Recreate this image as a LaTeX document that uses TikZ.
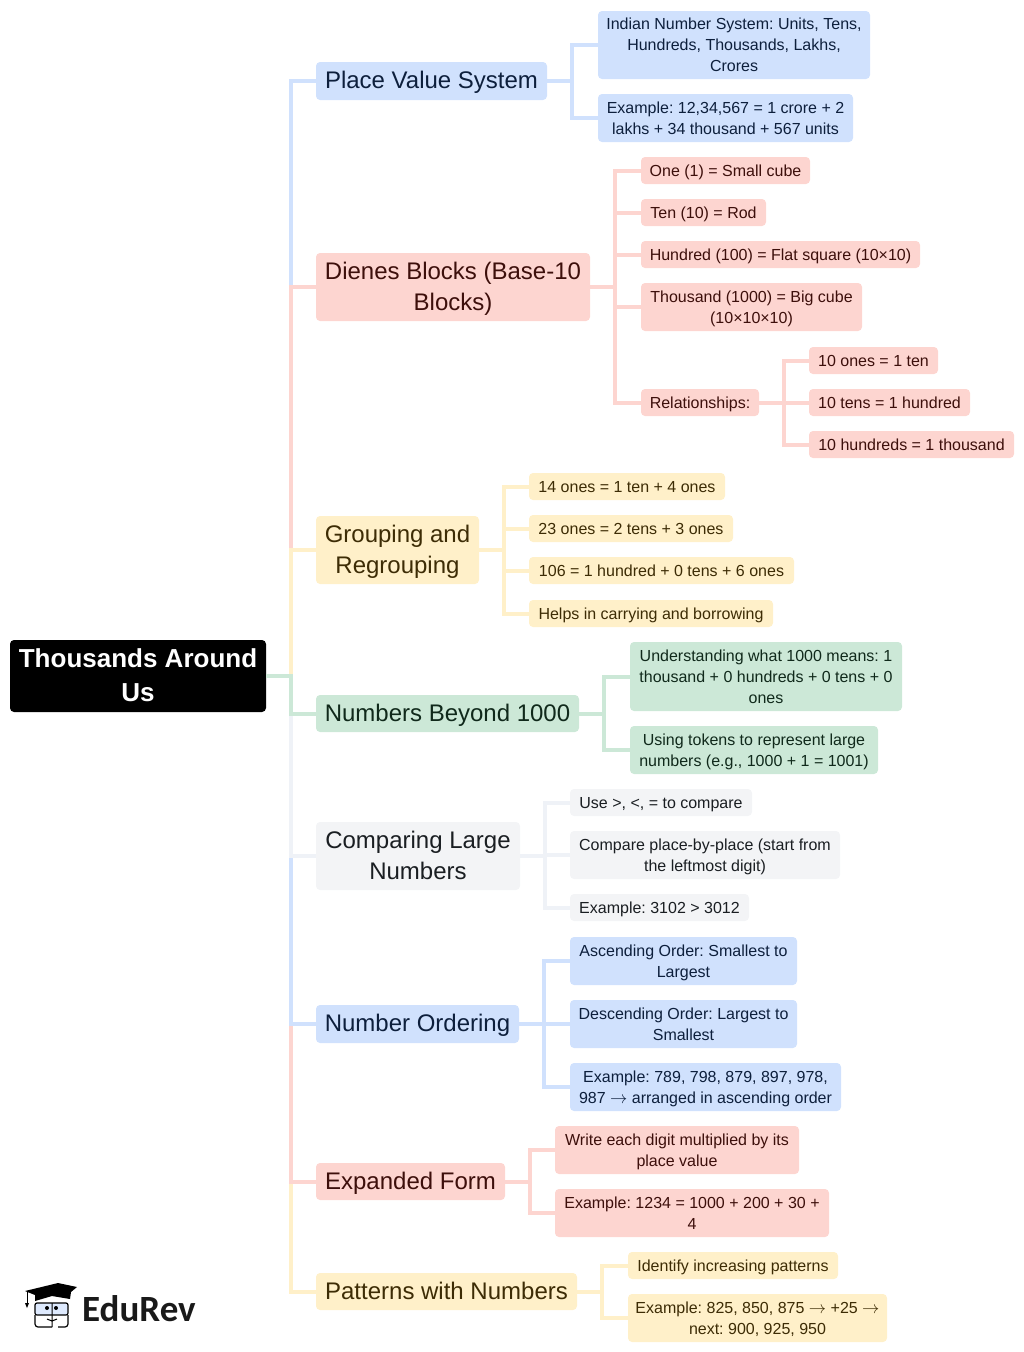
\documentclass[tikz,border=0pt]{standalone}
\usepackage{fontspec}
\setmainfont{Liberation Sans}
\newfontfamily\logofont{Carlito}
\definecolor{blueC}{HTML}{D0E1FD}
\definecolor{pinkC}{HTML}{FDD5D0}
\definecolor{yellowC}{HTML}{FFF0C9}
\definecolor{greenC}{HTML}{CCE8D7}
\definecolor{grayC}{HTML}{F3F4F6}
\definecolor{grayL}{HTML}{EFF2F7}
\definecolor{blueT}{HTML}{0D1F3C}
\definecolor{pinkT}{HTML}{3D0F0B}
\definecolor{yellowT}{HTML}{3D2C05}
\definecolor{greenT}{HTML}{10291B}
\definecolor{grayT}{HTML}{1A1E22}
\newcommand{\arr}{$\rightarrow$}
% height of the first line, for boxes of more than one line
\newcommand{\stp}{\rule{0pt}{16pt}}
\newcommand{\btp}{\rule{0pt}{23pt}}
\newcommand{\rtp}{\rule{0pt}{25pt}}
\tikzset{
  box/.style={rounded corners=4pt,inner sep=0pt,align=center},
  big/.style={box,font=\frenchspacing\fontsize{24}{31}\selectfont,
    execute at begin node={\rule{0pt}{23pt}},execute at end node={\rule[-8pt]{0pt}{8pt}}},
  small/.style={box,font=\frenchspacing\fontsize{16}{21}\selectfont,
    execute at begin node={\rule{0pt}{16pt}},execute at end node={\rule[-5pt]{0pt}{5pt}}},
  blueB/.style={fill=blueC,text=blueT},
  pinkB/.style={fill=pinkC,text=pinkT},
  yellowB/.style={fill=yellowC,text=yellowT},
  greenB/.style={fill=greenC,text=greenT},
  grayB/.style={fill=grayC,text=grayT},
  link/.style={line width=4pt},
  size/.style 2 args={minimum width=#1pt,minimum height=#2pt},
}
\begin{document}
\begin{tikzpicture}[x=1pt,y=-1pt]
\useasboundingbox (0,0) rectangle (1024,1352);
% root and main topics
\node[box,fill=black,text=white,size={256}{72},font=\frenchspacing\fontsize{26}{34}\bfseries\selectfont,
  execute at end node={\rule[-9pt]{0pt}{9pt}}] (root) at (138,676) {\rtp Thousands Around\\Us};
\node[big,blueB,size={231}{38}] (place) at (431.5,81) {Place Value System};
\node[big,pinkB,size={274}{68}] (dienes) at (453,287) {\btp Dienes Blocks (Base-10\\Blocks)};
\node[big,yellowB,size={163}{68}] (group) at (397.5,550) {\btp Grouping and\\Regrouping};
\node[big,greenB,size={263}{37}] (beyond) at (447.5,713.5) {Numbers Beyond 1000};
\node[big,grayB,size={204}{68}] (compare) at (418,856) {\btp Comparing Large\\Numbers};
\node[big,blueB,size={203}{38}] (order) at (417.5,1024) {Number Ordering};
\node[big,pinkB,size={189}{37}] (expand) at (410.5,1181.5) {Expanded Form};
\node[big,yellowB,size={261}{37}] (pattern) at (446.5,1291.5) {Patterns with Numbers};
% place value
\node[small,blueB,size={272}{68}] (indian) at (734,45) {\stp Indian Number System: Units, Tens,\\Hundreds, Thousands, Lakhs,\\Crores};
\node[small,blueB,size={255}{48}] (lakhs) at (725.5,118) {\stp Example: 12,34,567 = 1 crore + 2\\lakhs + 34 thousand + 567 units};
% dienes blocks
\node[small,pinkB,size={169}{27}] (one) at (725.5,170.5) {One (1) = Small cube};
\node[small,pinkB,size={125}{27}] (ten) at (703.5,212.5) {Ten (10) = Rod};
\node[small,pinkB,size={279}{27}] (hundred) at (780.5,254.5) {Hundred (100) = Flat square (10×10)};
\node[small,pinkB,size={221}{48}] (thousand) at (751.5,307) {\stp Thousand (1000) = Big cube\\(10×10×10)};
\node[small,pinkB,size={118}{27}] (rel) at (700,402.5) {Relationships:};
\node[small,pinkB,size={129}{27}] (relA) at (873.5,360.5) {10 ones = 1 ten};
\node[small,pinkB,size={161}{27}] (relB) at (889.5,402.5) {10 tens = 1 hundred};
\node[small,pinkB,size={205}{27}] (relC) at (911.5,444.5) {10 hundreds = 1 thousand};
% grouping
\node[small,yellowB,size={196}{27}] (grpA) at (627,486.5) {14 ones = 1 ten + 4 ones};
\node[small,yellowB,size={204}{27}] (grpB) at (631,528.5) {23 ones = 2 tens + 3 ones};
\node[small,yellowB,size={265}{27}] (grpC) at (661.5,570.5) {106 = 1 hundred + 0 tens + 6 ones};
\node[small,yellowB,size={244}{27}] (grpD) at (651,613.5) {Helps in carrying and borrowing};
% beyond 1000
\node[small,greenB,size={272}{69}] (mean) at (766,676.5) {\stp Understanding what 1000 means: 1\\thousand + 0 hundreds + 0 tens + 0\\ones};
\node[small,greenB,size={248}{48}] (token) at (754,750) {\stp Using tokens to represent large\\numbers (e.g., 1000 + 1 = 1001)};
% comparing
\node[small,grayB,size={182}{27}] (cmpA) at (661,802.5) {Use >, <, = to compare};
\node[small,grayB,size={270}{48}] (cmpB) at (705,855) {\stp Compare place-by-place (start from\\the leftmost digit)};
\node[small,grayB,size={179}{27}] (cmpC) at (659.5,907.5) {Example: 3102 > 3012};
% ordering
\node[small,blueB,size={227}{48}] (asc) at (683.5,961) {\stp Ascending Order: Smallest to\\Largest};
\node[small,blueB,size={227}{48}] (desc) at (683.5,1024) {\stp Descending Order: Largest to\\Smallest};
\node[small,blueB,size={271}{48}] (ordEx) at (705.5,1087) {\stp Example: 789, 798, 879, 897, 978,\\987 \arr{} arranged in ascending order};
% expanded form
\node[small,pinkB,size={244}{48}] (digit) at (677,1150) {\stp Write each digit multiplied by its\\place value};
\node[small,pinkB,size={274}{48}] (expEx) at (692,1213) {\stp Example: 1234 = 1000 + 200 + 30 +\\4};
% patterns
\node[small,yellowB,size={210}{27}] (patA) at (733,1265.5) {Identify increasing patterns};
\node[small,yellowB,size={259}{48}] (patB) at (757.5,1318) {\stp Example: 825, 850, 875 \arr{} +25 \arr\\next: 900, 925, 950};
% connectors from the root
\draw[link,blueC] (root.east) -- ++(25,0) |- (place.west);
\draw[link,pinkC] (root.east) -- ++(25,0) |- (dienes.west);
\draw[link,yellowC] (root.east) -- ++(25,0) |- (group.west);
\draw[link,yellowC] (root.east) -- ++(25,0) |- (pattern.west);
\draw[link,pinkC] (root.east) -- ++(25,0) |- (expand.west);
\draw[link,blueC] (root.east) -- ++(25,0) |- (order.west);
\draw[link,grayL] (root.east) -- ++(25,0) |- (compare.west);
\draw[link,greenC] (root.east) -- ++(25,0) |- (beyond.west);
% branches
\foreach \c in {indian,lakhs} \draw[link,blueC] (place.east) -- ++(25,0) |- (\c.west);
\foreach \c in {one,ten,hundred,thousand,rel} \draw[link,pinkC] (dienes.east) -- ++(25,0) |- (\c.west);
\foreach \c in {relA,relB,relC} \draw[link,pinkC] (rel.east) -- ++(25,0) |- (\c.west);
\foreach \c in {grpA,grpB,grpC,grpD} \draw[link,yellowC] (group.east) -- ++(25,0) |- (\c.west);
\foreach \c in {mean,token} \draw[link,greenC] (beyond.east) -- ++(25,0) |- (\c.west);
\foreach \c in {cmpA,cmpB,cmpC} \draw[link,grayL] (compare.east) -- ++(25,0) |- (\c.west);
\foreach \c in {asc,desc,ordEx} \draw[link,blueC] (order.east) -- ++(25,0) |- (\c.west);
\foreach \c in {digit,expEx} \draw[link,pinkC] (expand.east) -- ++(25,0) |- (\c.west);
\foreach \c in {patA,patB} \draw[link,yellowC] (pattern.east) -- ++(25,0) |- (\c.west);
% logo
\node[anchor=west,inner sep=0pt,font=\fontsize{37}{37}\logofont\bfseries,text=black!90] (brand) at (82,1309) {EduRev};
\fill[black] (25,1291) -- (58,1283) -- (77,1287) -- (71,1292) -- (70,1299) -- (52,1296) -- (35,1301) -- (35,1295) -- cycle;
\draw[line width=1pt] (27,1291) -- (27,1303);
\fill (25,1303) -- (29,1303) -- (27,1308) -- cycle;
\draw[line width=1.2pt,fill=blueC!70,rounded corners=2pt] (35,1303) rectangle (68,1315);
\draw[line width=1.2pt,rounded corners=3pt] (35,1315) -- (35,1327) -- (52,1327) (68,1315) -- (68,1327) -- (58,1327);
\draw[line width=1pt] (52,1303) -- (52,1327) (47,1319) -- (52,1321) -- (57,1319);
\fill (47,1308) circle (2pt) (56,1308) circle (2pt);
\end{tikzpicture}
\end{document}
